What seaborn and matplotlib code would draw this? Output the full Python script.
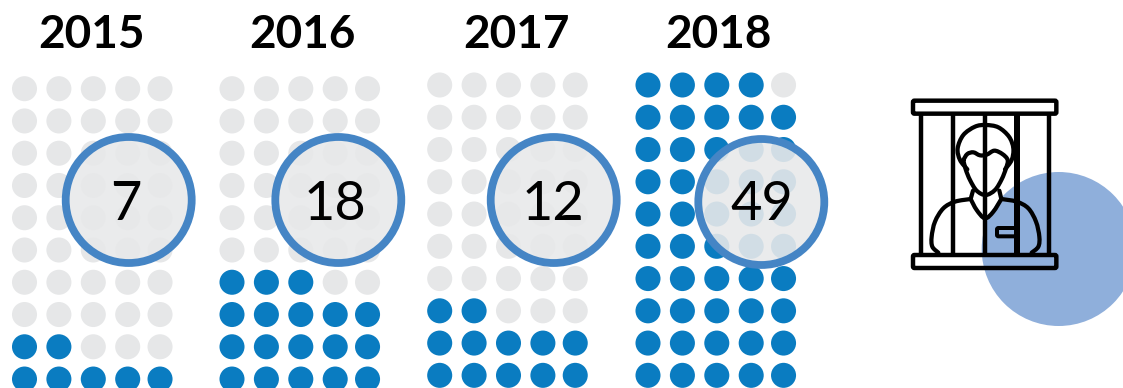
import numpy as np
import pandas as pd
import seaborn as sns
import matplotlib.pyplot as plt
from matplotlib.patches import Circle, FancyBboxPatch, PathPatch
from matplotlib.path import Path

years = ['2015', '2016', '2017', '2018']
counts = [7, 18, 12, 49]

W, H = 1123, 388
N_ROWS, N_COLS = 10, 5
COL_STEP, ROW_STEP = 34.4, 32.26
COL_POS = [0, 1, 2, 3, 3.94]

# pixel layout of each year: first dot, title centre, big circle centre, number centre
panel_x = [24.5, 232, 439.7, 648]
panel_y = [88.7, 88.7, 85, 85]
title_x = [92, 302.7, 516, 718]
ring_xy = [(128.7, 200), (338.3, 200), (553.7, 200), (761.3, 202)]
label_x = [126, 334.5, 553, 762]

GREY = '#e6e7e8'
BLUE = '#0a7cc1'
RING = '#4585c5'
RING_FILL = '#e8e9ea'
ICON_BG = '#8fafdb'

sns.set_style('white')
plt.rcParams['font.family'] = ['Lato', 'DejaVu Sans']


def dot_table(count):
    rows = []
    for r in range(N_ROWS):
        for c in range(N_COLS):
            # dots fill up from the bottom row, left to right
            filled = (N_ROWS - 1 - r) * N_COLS + c < count
            rows.append({'col': COL_POS[c], 'row': r, 'state': 'on' if filled else 'off'})
    return pd.DataFrame(rows)


def ip(x, y):
    # icon sketch coordinates to figure pixels
    return 880 + x / 3, 80 + y / 3


def smooth(points):
    # catmull-rom through the points, as cubic beziers
    pts = np.array([ip(*p) for p in points])
    padded = np.vstack([pts[0], pts, pts[-1]])
    verts = [pts[0]]
    codes = [Path.MOVETO]
    for i in range(1, len(padded) - 2):
        p0, p1, p2, p3 = padded[i - 1], padded[i], padded[i + 1], padded[i + 2]
        verts += [p1 + (p2 - p0) / 6, p2 - (p3 - p1) / 6, p2]
        codes += [Path.CURVE4, Path.CURVE4, Path.CURVE4]
    return Path(verts, codes)


fig = plt.figure(figsize=(W / 100, H / 100), dpi=100)
fig.patch.set_facecolor('white')

# one axes of dots per year
for x0, y0, count in zip(panel_x, panel_y, counts):
    left = x0 - 0.5 * COL_STEP
    top = y0 - 0.5 * ROW_STEP
    ax = fig.add_axes([left / W, 1 - (top + N_ROWS * ROW_STEP) / H,
                       N_COLS * COL_STEP / W, N_ROWS * ROW_STEP / H])
    sns.scatterplot(data=dot_table(count), x='col', y='row', hue='state',
                    palette={'on': BLUE, 'off': GREY}, s=325, linewidth=0,
                    legend=False, clip_on=False, ax=ax)
    ax.set_xlim(-0.5, N_COLS - 0.5)
    ax.set_ylim(N_ROWS - 0.5, -0.5)
    ax.axis('off')

# everything else sits on a pixel-sized overlay
ov = fig.add_axes([0, 0, 1, 1])
ov.set_xlim(0, W)
ov.set_ylim(H, 0)
ov.axis('off')
ov.patch.set_alpha(0)

for year, tx in zip(years, title_x):
    ov.text(tx, 35, year, ha='center', va='center', fontsize=33, fontweight='bold', color='black')

for (cx, cy), lx, count in zip(ring_xy, label_x, counts):
    ov.add_patch(Circle((cx, cy), 63, facecolor=RING_FILL, edgecolor='none', alpha=0.9))
    ov.add_patch(Circle((cx, cy), 63, facecolor='none', edgecolor=RING, linewidth=5.6))
    ov.text(lx, 204, str(count), ha='center', va='center', fontsize=39, color='black')

# prisoner icon
ov.add_patch(Circle((1058.7, 249), 77, facecolor=ICON_BG, edgecolor='none'))

LW = 3.2
for y_top in (62, 525):
    x0, y0 = ip(99, y_top)
    x1, y1 = ip(529, y_top + 39)
    ov.add_patch(FancyBboxPatch((x0, y0), x1 - x0, y1 - y0, boxstyle='round,pad=0,rounding_size=1.5',
                                facecolor='none', edgecolor='black', linewidth=LW))

for bx, width in zip([122, 218, 315, 411, 507], [LW, LW, LW, LW * 1.35, LW]):
    ov.plot(*zip(ip(bx, 105), ip(bx, 520)), color='black', linewidth=width, solid_capstyle='butt')

outlines = [
    # hair
    [(262, 268), (240, 240), (233, 205), (250, 165), (285, 140), (317, 135), (355, 142), (387, 170),
     (400, 205), (395, 240), (375, 268)],
    # hairline and face
    [(250, 240), (262, 222), (280, 217), (300, 226), (320, 224), (343, 212), (367, 222), (383, 240),
     (378, 265), (365, 298), (345, 330), (317, 345), (290, 332), (270, 300), (257, 268), (250, 240)],
    # neck
    [(279, 332), (272, 357)],
    [(358, 332), (364, 357)],
    # left shoulder
    [(272, 357), (225, 365), (190, 385), (165, 425), (155, 470), (157, 500), (175, 518)],
    # right shoulder
    [(364, 357), (410, 365), (445, 385), (468, 425), (478, 470), (475, 500), (455, 518)],
    # collar
    [(272, 357), (290, 390), (315, 415), (340, 395), (364, 357)],
]
for pts in outlines:
    ov.add_patch(PathPatch(smooth(pts), facecolor='none', edgecolor='black', linewidth=LW * 0.95,
                           capstyle='round', joinstyle='round'))

# badge on the chest
bx0, by0 = ip(351, 444)
bx1, by1 = ip(411, 469)
ov.add_patch(FancyBboxPatch((bx0, by0), bx1 - bx0, by1 - by0, boxstyle='round,pad=0,rounding_size=1.5',
                            facecolor='none', edgecolor='black', linewidth=LW * 0.9))

fig.savefig('out.png', dpi=100)
plt.close(fig)
